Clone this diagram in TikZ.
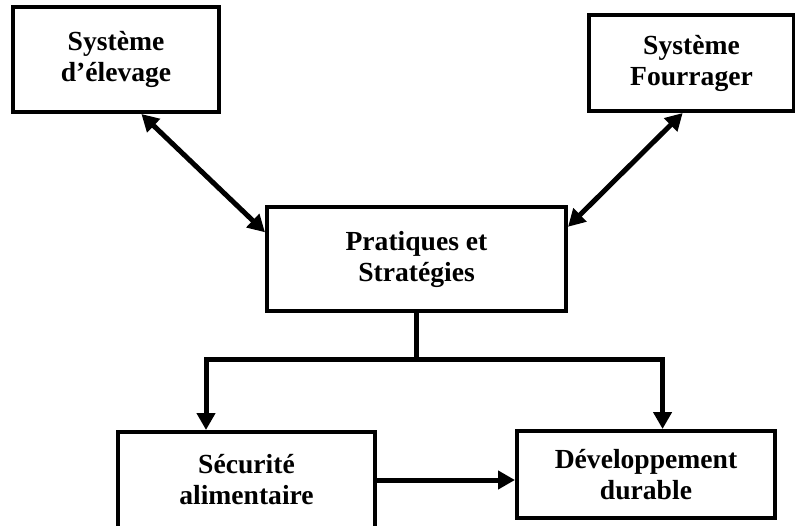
\documentclass[tikz,border=0pt]{standalone}
\usepackage{fontspec}
\setmainfont{Liberation Serif}
\usepackage{tikz}
\usetikzlibrary{arrows.meta}

\begin{document}
\begin{tikzpicture}[x=1pt,y=-1pt,
	box/.style={draw,line width=4pt,align=center,font=\bfseries\fontsize{27.6}{31}\selectfont},
	link/.style={line width=5pt},
	arr/.style={link,-{Triangle[length=17pt,width=18pt]}},
	dbl/.style={link,{Triangle[length=17pt,width=18pt]}-{Triangle[length=17pt,width=18pt]}}]
					\useasboundingbox (0,0) rectangle (795,526);
					\node[box,minimum width=206pt,minimum height=105pt] (elev) at (116,59.5) {Système\\d’élevage};
					\node[box,minimum width=205pt,minimum height=96pt] (fourr) at (691.5,63) {Système\\Fourrager};
					\node[box,minimum width=299pt,minimum height=104pt] (prat) at (416.5,259) {Pratiques et\\Stratégies};
					\node[box,minimum width=257pt,minimum height=96pt] (secu) at (246.5,480) {Sécurité\\alimentaire};
					\node[box,minimum width=258pt,minimum height=87pt] (dev) at (646,474.5) {Développement\\durable};
					\coordinate (split) at ([yshift=-47pt]prat.south);
					\draw[dbl] (elev.-65) -- (prat.170);
					\draw[dbl] (fourr.-100) -- (prat.12);
					\draw[link] (prat.south) -- (split);
					\draw[arr] (split) -| (secu.129);
					\draw[arr] (split) -| (dev.70);
					\draw[arr] (secu.east) -- (secu.east -| dev.west);
				\end{tikzpicture}
\end{document}
